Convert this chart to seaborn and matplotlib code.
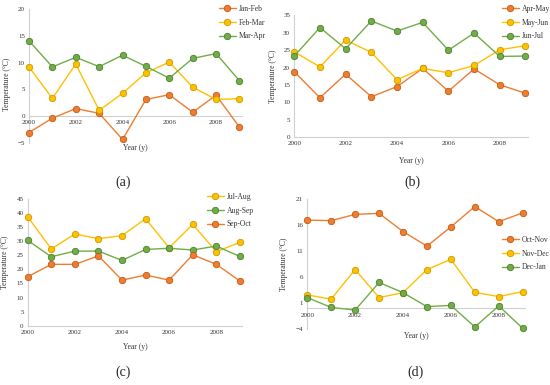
import matplotlib
matplotlib.use("Agg")
import matplotlib.pyplot as plt
import seaborn as sns
import pandas as pd

years = list(range(2000, 2010))

# panel (a)
jan_feb = [-3.1, -0.4, 1.4, 0.5, -4.4, 3.1, 4.0, 0.7, 3.9, -2.1]
feb_mar = [9.2, 3.3, 9.75, 1.05, 4.25, 8.1, 10.1, 5.4, 3.1, 3.25]
mar_apr = [14.1, 9.2, 11.0, 9.25, 11.4, 9.3, 7.1, 10.8, 11.7, 6.6]
# panel (b)
apr_may = [18.8, 11.3, 18.1, 11.6, 14.5, 19.75, 13.2, 19.6, 15.05, 12.6]
may_jun = [24.5, 20.2, 27.9, 24.35, 16.5, 19.75, 18.5, 20.6, 25.1, 26.3]
jun_jul = [23.3, 31.5, 25.4, 33.4, 30.5, 33.0, 25.0, 29.9, 23.2, 23.3]
# panel (c)
jul_aug = [38.7, 27.25, 32.6, 30.9, 32.0, 38.0, 27.7, 36.0, 26.3, 29.6]
aug_sep = [30.3, 24.5, 26.5, 26.5, 23.2, 27.1, 27.5, 26.9, 28.3, 24.6]
sep_oct = [17.4, 21.8, 21.8, 24.8, 16.2, 18.0, 16.2, 25.2, 21.8, 15.9]
# panel (d)
oct_nov = [17.0, 16.9, 18.1, 18.3, 14.8, 12.0, 15.7, 19.6, 16.7, 18.4]
nov_dec = [2.6, 1.8, 7.5, 2.1, 3.05, 7.5, 9.45, 3.1, 2.3, 3.25]
dec_jan = [2.1, 0.2, -0.3, 5.0, 3.05, 0.35, 0.6, -3.55, 0.5, -3.8]

ORANGE = ("#ED7D31", "#C55A11")
YELLOW = ("#FFC000", "#C99A00")
GREEN = ("#70AD47", "#4E7F30")

panels = [
    dict(series=[("Jan-Feb", jan_feb, ORANGE), ("Feb-Mar", feb_mar, YELLOW), ("Mar-Apr", mar_apr, GREEN)],
         yticks=[-5, 0, 5, 10, 15, 20], rect=[0.0527, 0.6294, 0.387, 0.3464],
         xlab_y=-0.013, ylab=(-0.085, 0.44), leg=(219, 5), cap=(123, 182), tag="(a)"),
    dict(series=[("Apr-May", apr_may, ORANGE), ("May-Jun", may_jun, YELLOW), ("Jun-Jul", jun_jul, GREEN)],
         yticks=[0, 5, 10, 15, 20, 25, 30, 35], rect=[0.535, 0.644, 0.425, 0.316],
         xlab_y=-0.16, ylab=(-0.075, 0.5), leg=(502, 5), cap=(412, 182), tag="(b)"),
    dict(series=[("Jul-Aug", jul_aug, YELLOW), ("Aug-Sep", aug_sep, GREEN), ("Sep-Oct", sep_oct, ORANGE)],
         yticks=[0, 5, 10, 15, 20, 25, 30, 35, 40, 45], rect=[0.0504, 0.154, 0.390, 0.329],
         xlab_y=-0.14, ylab=(-0.085, 0.5), leg=(207, 193), cap=(123, 372), tag="(c)"),
    dict(series=[("Oct-Nov", oct_nov, ORANGE), ("Nov-Dec", nov_dec, YELLOW), ("Dec-Jan", dec_jan, GREEN)],
         yticks=[-4, 1, 6, 11, 16, 21], rect=[0.5587, 0.1447, 0.396, 0.3376],
         xlab_y=-0.017, ylab=(-0.09, 0.5), leg=(502, 236), cap=(415, 372), tag="(d)"),
]

sns.set_style("white")
plt.rcParams["font.family"] = ["Liberation Serif", "DejaVu Serif"]

fig = plt.figure(figsize=(5.5, 3.85), dpi=100)
W, H = 550, 385

for p in panels:
    ax = fig.add_axes(p["rect"])
    for name, vals, (fc, ec) in p["series"]:
        df = pd.DataFrame({"year": years, "temp": vals})
        sns.lineplot(data=df, x="year", y="temp", ax=ax, color=fc, linewidth=1.0,
                     marker="o", markersize=4.6, markerfacecolor=fc, markeredgecolor=ec,
                     markeredgewidth=0.6, label=name, clip_on=False)
    yt = p["yticks"]
    ax.set_ylim(yt[0], yt[-1])
    ax.set_yticks(yt)
    ax.set_xlim(2000, 2009.1)
    ax.set_xticks([2000, 2002, 2004, 2006, 2008])
    ax.tick_params(length=0, labelsize=5, pad=3, colors="#333333")
    for s in ["top", "right"]:
        ax.spines[s].set_visible(False)
    for s in ["left", "bottom"]:
        ax.spines[s].set_color("#d0d0d0")
        ax.spines[s].set_linewidth(0.8)
        ax.spines[s].set_zorder(0.5)
    if yt[0] < 0:
        ax.spines["bottom"].set_position(("data", 0))
    ax.set_xlabel("Year (y)", fontsize=5.5, color="#333333")
    ax.xaxis.set_label_coords(0.5, p["xlab_y"])
    ax.set_ylabel("Temperature (°C)", fontsize=5.5, color="#333333")
    ax.yaxis.set_label_coords(*p["ylab"])
    lx, ly = p["leg"]
    ax.legend(loc="upper left", bbox_to_anchor=(lx / W, 1 - ly / H),
              bbox_transform=fig.transFigure, frameon=False, fontsize=5.5,
              handlelength=2.2, handletextpad=0.4, labelspacing=0.75,
              borderpad=0, borderaxespad=0, labelcolor="#333333")
    cx, cy = p["cap"]
    fig.text(cx / W, 1 - cy / H, p["tag"], ha="center", va="center", fontsize=10)

fig.savefig("out.png", dpi=100)
